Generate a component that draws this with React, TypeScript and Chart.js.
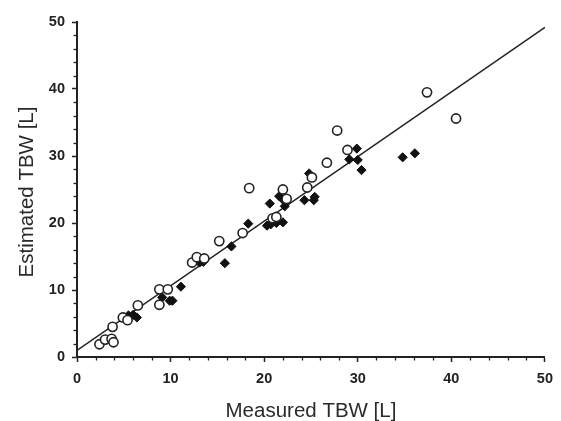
import React, { useEffect, useRef } from "react";
import { Chart, registerables } from "chart.js";

Chart.register(...registerables);

const X_TITLE = "Measured TBW [L]";
const Y_TITLE = "Estimated TBW [L]";
const AXIS_MIN = 0;
const AXIS_MAX = 50;
const MINOR_STEP = 2;
const MAJOR_STEP = 10;

// Open circles
const openX = [2.4, 3.0, 3.7, 3.9, 3.8, 4.9, 5.4, 6.5, 8.8, 8.8, 9.7, 12.3, 12.8, 13.6, 15.2, 17.7, 18.4, 20.9, 21.3, 22.0, 22.4, 24.6, 25.1, 26.7, 27.8, 28.9, 37.4, 40.5];
const openY = [1.9, 2.6, 2.7, 2.2, 4.5, 5.9, 5.5, 7.7, 7.8, 10.1, 10.1, 14.1, 14.9, 14.7, 17.3, 18.5, 25.2, 20.7, 20.9, 25.0, 23.6, 25.3, 26.8, 29.0, 33.8, 30.9, 39.5, 35.6];

// Filled diamonds
const filledX = [5.1, 5.5, 6.0, 6.4, 9.1, 9.9, 10.2, 11.1, 13.1, 13.5, 15.8, 16.5, 18.3, 20.3, 20.7, 21.3, 22.0, 20.6, 21.6, 22.0, 22.2, 24.3, 25.3, 25.4, 24.8, 29.9, 29.1, 30.0, 30.4, 34.8, 36.1];
const filledY = [5.9, 6.2, 6.3, 5.9, 8.9, 8.4, 8.4, 10.5, 14.1, 14.2, 14.0, 16.5, 19.9, 19.6, 19.8, 20.0, 20.1, 22.9, 24.0, 23.5, 22.5, 23.4, 23.4, 23.9, 27.4, 31.1, 29.5, 29.4, 27.9, 29.8, 30.4];

// Regression line end points
const lineX = [0, 50];
const lineY = [1.0, 49.2];

const FONT = "'Liberation Sans', Arial, Helvetica, sans-serif";
const INK = "#222";

const zip = (xs: number[], ys: number[]) => xs.map((x, i) => ({ x, y: ys[i] }));

const decorPlugin = {
  id: "decor",
  afterDraw(chart: any) {
    const { ctx, chartArea } = chart;
    const xs = chart.scales.x;
    const ys = chart.scales.y;
    ctx.save();
    ctx.strokeStyle = INK;
    ctx.lineWidth = 1.3;
    for (let v = AXIS_MIN; v <= AXIS_MAX; v += MINOR_STEP) {
      if (v % MAJOR_STEP === 0) continue;
      const px = Math.round(xs.getPixelForValue(v)) + 0.5;
      ctx.beginPath();
      ctx.moveTo(px, chartArea.bottom);
      ctx.lineTo(px, chartArea.bottom + 3.5);
      ctx.stroke();
      const py = Math.round(ys.getPixelForValue(v)) + 0.5;
      ctx.beginPath();
      ctx.moveTo(chartArea.left, py);
      ctx.lineTo(chartArea.left - 3.5, py);
      ctx.stroke();
    }
    ctx.fillStyle = "#2a2a2a";
    ctx.font = `20.5px ${FONT}`;
    ctx.textAlign = "center";
    ctx.textBaseline = "alphabetic";
    ctx.fillText(X_TITLE, (chartArea.left + chartArea.right) / 2, 417);
    ctx.translate(33, 192);
    ctx.rotate(-Math.PI / 2);
    ctx.fillText(Y_TITLE, 0, 0);
    ctx.restore();
  },
};

const tickColor = (c: any) =>
  c.tick && c.tick.value % MAJOR_STEP === 0 ? INK : "rgba(0,0,0,0)";

export default function App() {
  const ref = useRef<HTMLCanvasElement | null>(null);
  useEffect(() => {
    if (!ref.current) return;
    const chart = new Chart(ref.current, {
      type: "scatter",
      data: {
        datasets: [
          {
            label: "open",
            data: zip(openX, openY),
            pointStyle: "circle",
            pointRadius: 4.6,
            pointBackgroundColor: "#fff",
            pointBorderColor: INK,
            pointBorderWidth: 1.6,
            showLine: false,
          },
          {
            label: "filled",
            data: zip(filledX, filledY),
            pointStyle: "rectRot",
            pointRadius: 4.6,
            pointBackgroundColor: "#111",
            pointBorderColor: "#111",
            pointBorderWidth: 1,
            showLine: false,
          },
          {
            label: "fit",
            data: zip(lineX, lineY),
            showLine: true,
            pointRadius: 0,
            borderColor: INK,
            borderWidth: 1.4,
            fill: false,
          },
        ],
      } as any,
      options: {
        responsive: false,
        animation: false,
        devicePixelRatio: 1,
        layout: { padding: { top: 22, right: 15, left: 0, bottom: 0 } },
        plugins: {
          legend: { display: false },
          tooltip: { enabled: false },
          title: { display: false },
        },
        scales: {
          x: {
            type: "linear",
            min: AXIS_MIN,
            max: AXIS_MAX,
            afterFit: (s: any) => {
              s.height = 64;
            },
            border: { display: true, color: INK, width: 2 },
            grid: {
              display: true,
              drawOnChartArea: false,
              drawTicks: true,
              tickLength: 5,
              tickWidth: 1.5,
              tickColor: tickColor,
            },
            ticks: {
              stepSize: MINOR_STEP,
              autoSkip: false,
              maxRotation: 0,
              padding: 8,
              color: INK,
              font: { family: FONT, size: 14.5, weight: "bold" },
              callback: (v: any) => (Number(v) % MAJOR_STEP === 0 ? String(v) : ""),
            },
          },
          y: {
            type: "linear",
            min: AXIS_MIN,
            max: AXIS_MAX,
            afterFit: (s: any) => {
              s.width = 77;
            },
            border: { display: true, color: INK, width: 2 },
            grid: {
              display: true,
              drawOnChartArea: false,
              drawTicks: true,
              tickLength: 5,
              tickWidth: 1.5,
              tickColor: tickColor,
            },
            ticks: {
              stepSize: MINOR_STEP,
              autoSkip: false,
              padding: 7,
              color: INK,
              font: { family: FONT, size: 14.5, weight: "bold" },
              callback: (v: any) => (Number(v) % MAJOR_STEP === 0 ? String(v) : ""),
            },
          },
        },
      } as any,
      plugins: [decorPlugin],
    });
    return () => chart.destroy();
  }, []);

  return (
    <div style={{ position: "absolute", left: 0, top: 0, width: 561, height: 421, background: "#fff" }}>
      <canvas ref={ref} width={561} height={421} style={{ display: "block" }} />
    </div>
  );
}
